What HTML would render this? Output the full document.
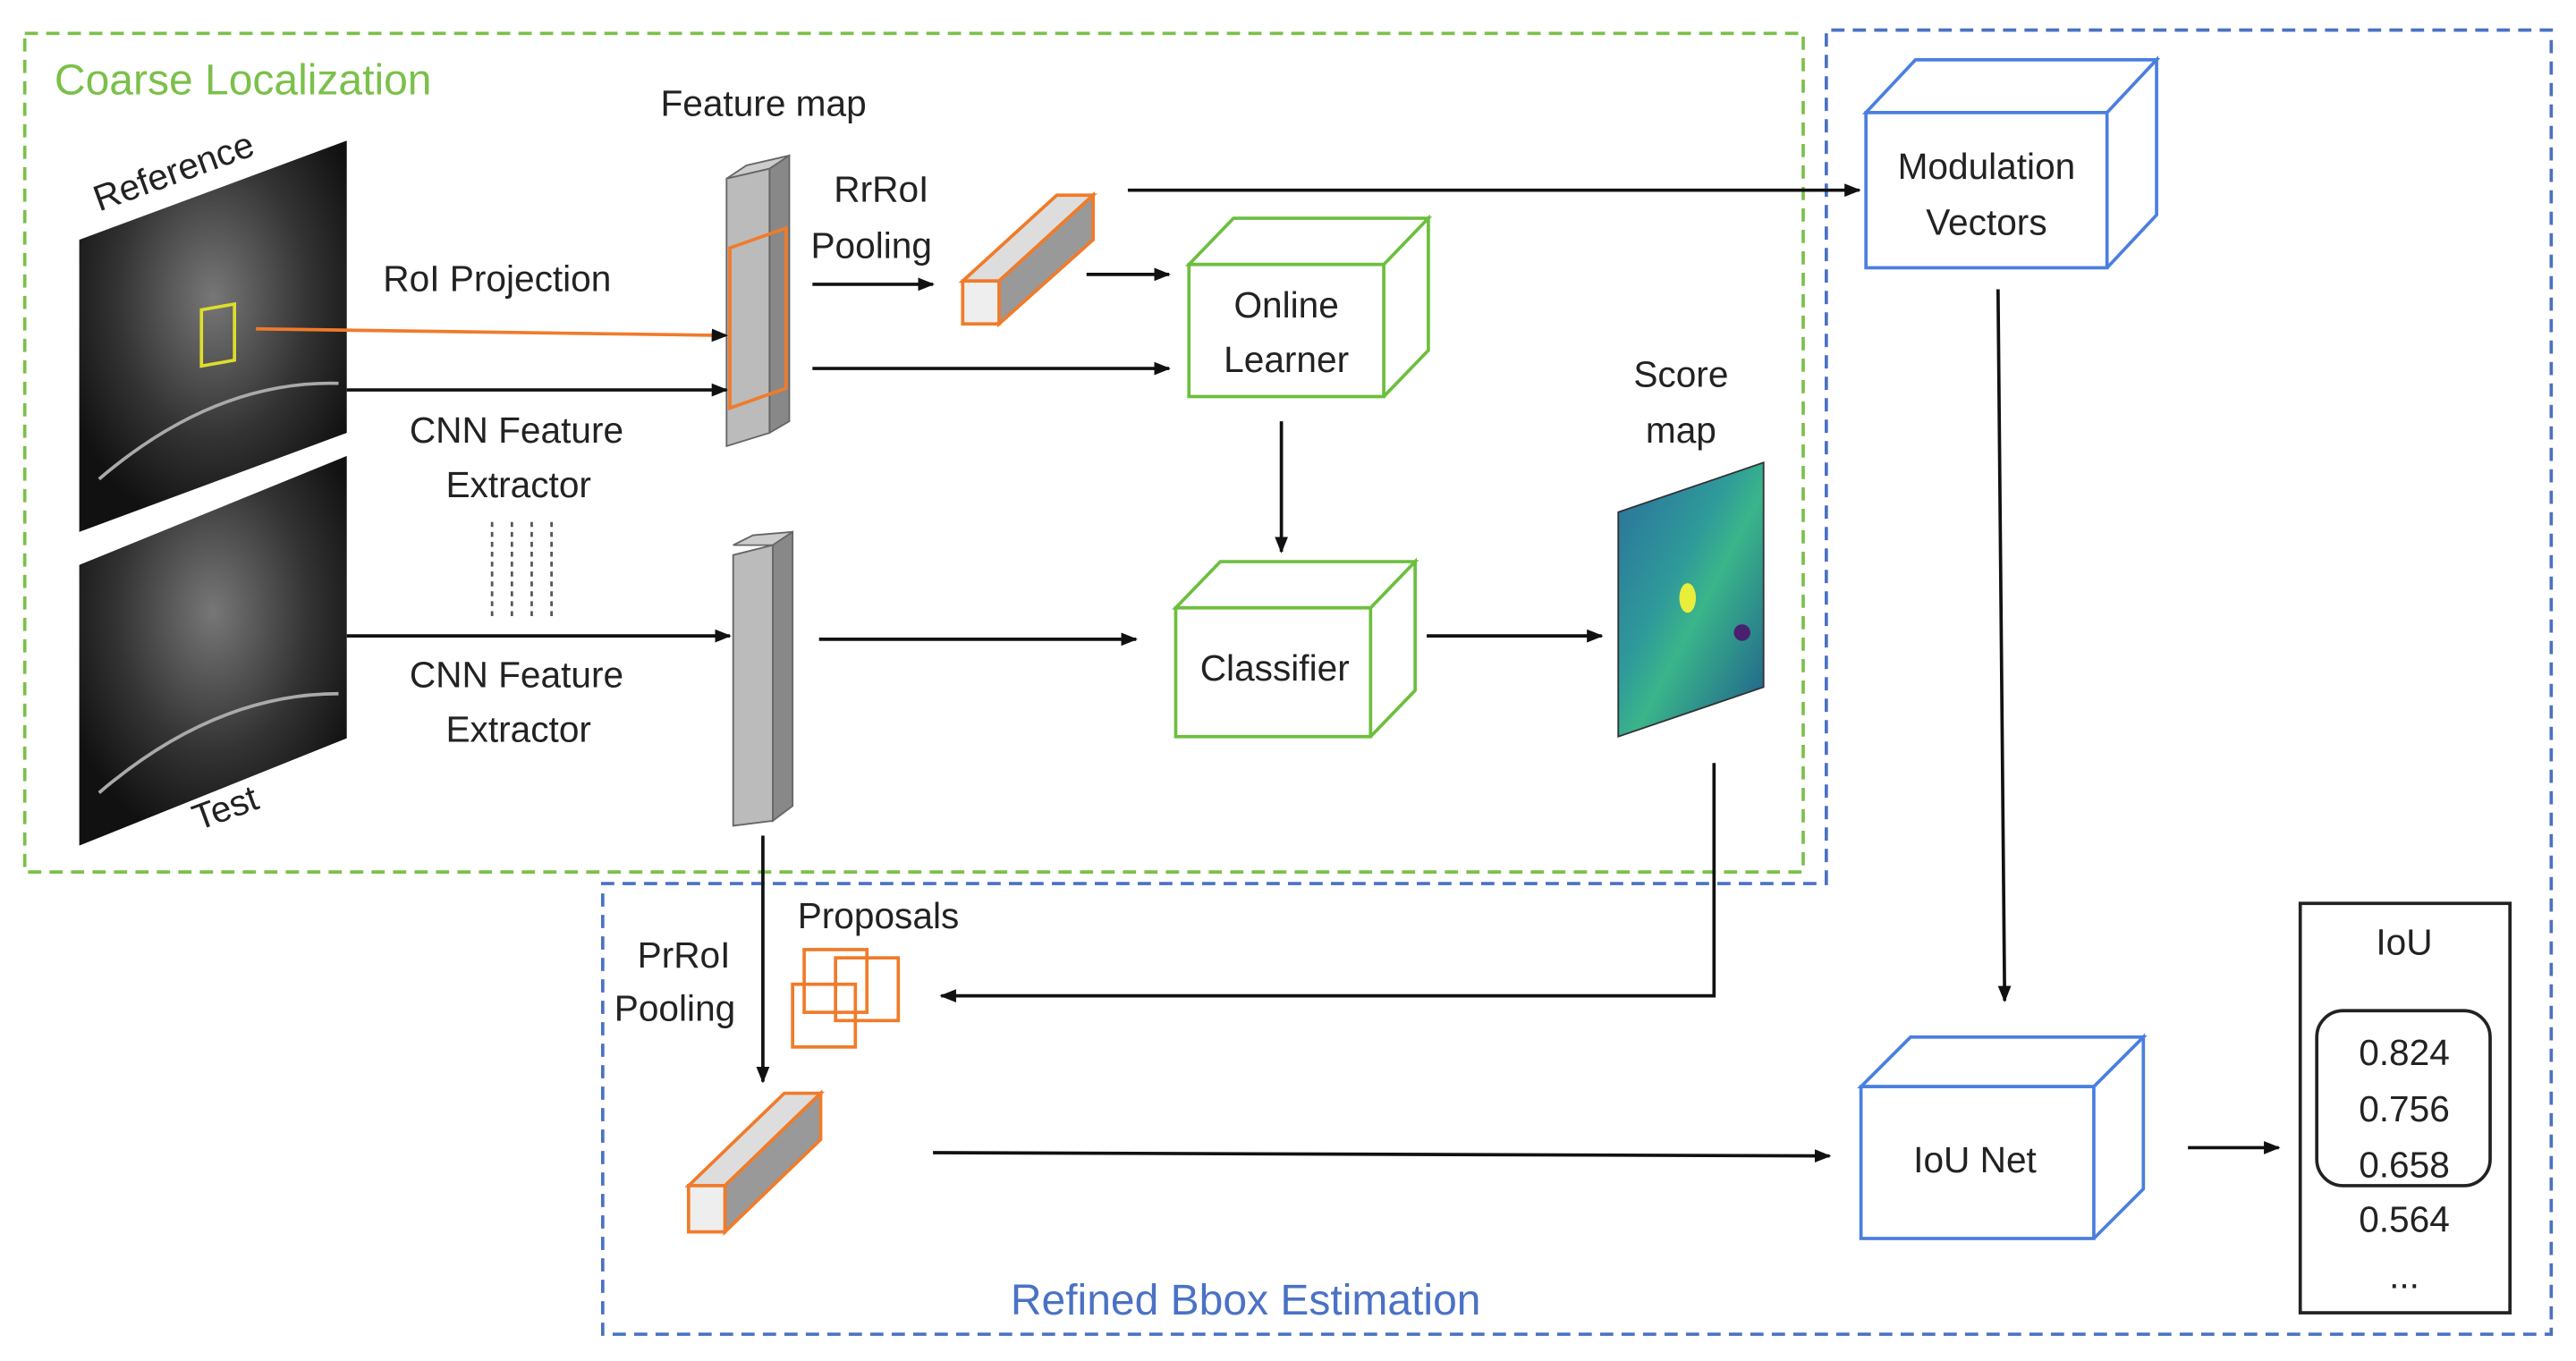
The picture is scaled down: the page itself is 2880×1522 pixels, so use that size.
<!DOCTYPE html>
<html><head><meta charset="utf-8"><style>
html,body{margin:0;padding:0;background:#fff;}
svg{display:block}
text{font-family:"Liberation Sans",sans-serif;fill:#222;}
</style></head><body>
<svg width="2880" height="1522" viewBox="0 0 1560 824" xmlns="http://www.w3.org/2000/svg">
<defs>
<marker id="a" markerWidth="10" markerHeight="8" refX="9" refY="4" orient="auto" markerUnits="userSpaceOnUse"><path d="M0,0 L10,4 L0,8z" fill="#111"/></marker>
<linearGradient id="sm" x1="0" y1="0" x2="1" y2="1"><stop offset="0" stop-color="#2a6e9a"/><stop offset="0.4" stop-color="#2f9a9a"/><stop offset="0.55" stop-color="#3ab58a"/><stop offset="1" stop-color="#1e5a8c"/></linearGradient>
<radialGradient id="im" cx="0.5" cy="0.4" r="0.6"><stop offset="0" stop-color="#777"/><stop offset="0.6" stop-color="#333"/><stop offset="1" stop-color="#111"/></radialGradient>
</defs>
<!-- dashed regions -->
<rect x="15" y="20" width="1077" height="508" fill="none" stroke="#7bc04a" stroke-width="2" stroke-dasharray="8,5"/>
<path d="M1106,535 L1106,18 L1545,18 L1545,808 L365,808 L365,535 Z" fill="none" stroke="#4a72c4" stroke-width="2" stroke-dasharray="8,5"/>
<text x="33" y="57" font-size="26" style="fill:#7bc04a">Coarse Localization</text>
<text x="612" y="796" font-size="26" style="fill:#4a72c4">Refined Bbox Estimation</text>
<!-- images -->
<polygon points="48,145 210,85 210,262 48,322" fill="url(#im)"/>
<polygon points="48,342 210,276 210,447 48,512" fill="url(#im)"/>
<path d="M60,290 Q130,230 205,232" stroke="#aaa" fill="none" stroke-width="2"/>
<path d="M60,480 Q130,420 205,420" stroke="#aaa" fill="none" stroke-width="2"/>
<rect x="122" y="186" width="20" height="34" fill="none" stroke="#dede2a" stroke-width="2" transform="skewY(-10) translate(0,23)"/>
<text x="60" y="128" font-size="22" transform="rotate(-20 60 128)">Reference</text>
<text x="120" y="503" font-size="22" transform="rotate(-20 120 503)">Test</text>
<!-- feature maps -->
<text x="400" y="70" font-size="22">Feature map</text>
<polygon points="440,108 452,100 478,94 466,102" fill="#ccc" stroke="#666"/>
<polygon points="466,102 478,94 478,255 466,262" fill="#888" stroke="#666"/>
<polygon points="440,108 466,102 466,262 440,270" fill="#bbb" stroke="#666"/>
<polygon points="442,150 476,138 476,235 442,247" fill="none" stroke="#f07b2a" stroke-width="2"/>
<polygon points="444,330 456,324 480,322 468,330" fill="#ccc" stroke="#666"/>
<polygon points="468,330 480,322 480,488 468,497" fill="#888" stroke="#666"/>
<polygon points="444,336 468,330 468,497 444,500" fill="#bbb" stroke="#666"/>
<!-- orange pooled -->
<polygon points="583,170 640,118 662,118 605,170" fill="#ddd" stroke="#f07b2a" stroke-width="2"/>
<polygon points="605,170 662,118 662,145 605,196" fill="#999" stroke="#f07b2a" stroke-width="2"/>
<rect x="583" y="170" width="22" height="26" fill="#eee" stroke="#f07b2a" stroke-width="2"/>
<polygon points="417,718 475,662 497,662 439,718" fill="#ddd" stroke="#f07b2a" stroke-width="2"/>
<polygon points="439,718 497,662 497,690 439,746" fill="#999" stroke="#f07b2a" stroke-width="2"/>
<rect x="417" y="718" width="22" height="28" fill="#eee" stroke="#f07b2a" stroke-width="2"/>
<!-- proposals -->
<rect x="487" y="575" width="38" height="38" fill="none" stroke="#f07b2a" stroke-width="2"/>
<rect x="506" y="580" width="38" height="38" fill="none" stroke="#f07b2a" stroke-width="2"/>
<rect x="480" y="596" width="38" height="38" fill="none" stroke="#f07b2a" stroke-width="2"/>
<text x="483" y="562" font-size="22">Proposals</text>
<text x="386" y="586" font-size="22">PrRoI</text>
<text x="372" y="618" font-size="22">Pooling</text>
<!-- text labels -->
<text x="505" y="122" font-size="22">RrRoI</text>
<text x="491" y="156" font-size="22">Pooling</text>
<text x="232" y="176" font-size="22">RoI Projection</text>
<text x="248" y="268" font-size="22">CNN Feature</text>
<text x="270" y="301" font-size="22">Extractor</text>
<text x="248" y="416" font-size="22">CNN Feature</text>
<text x="270" y="449" font-size="22">Extractor</text>
<g stroke="#555" stroke-width="1.5" stroke-dasharray="3,3"><line x1="298" y1="316" x2="298" y2="374"/><line x1="310" y1="316" x2="310" y2="374"/><line x1="322" y1="316" x2="322" y2="374"/><line x1="334" y1="316" x2="334" y2="374"/></g>
<!-- cubes -->
<g fill="#fff" stroke="#6cbf3e" stroke-width="2">
<path d="M720,160 L747,132 L865,132 L838,160 Z M838,160 L865,132 L865,212 L838,240"/>
<rect x="720" y="160" width="118" height="80"/>
<path d="M712,368 L739,340 L857,340 L830,368 Z M830,368 L857,340 L857,418 L830,446"/>
<rect x="712" y="368" width="118" height="78"/>
</g>
<g fill="#fff" stroke="#4a7fe0" stroke-width="2">
<path d="M1130,68 L1160,36 L1306,36 L1276,68 Z M1276,68 L1306,36 L1306,130 L1276,162"/>
<rect x="1130" y="68" width="146" height="94"/>
<path d="M1127,658 L1157,628 L1298,628 L1268,658 Z M1268,658 L1298,628 L1298,720 L1268,750"/>
<rect x="1127" y="658" width="141" height="92"/>
</g>
<text x="779" y="192" font-size="22" text-anchor="middle">Online</text>
<text x="779" y="225" font-size="22" text-anchor="middle">Learner</text>
<text x="772" y="412" font-size="22" text-anchor="middle">Classifier</text>
<text x="1203" y="108" font-size="22" text-anchor="middle">Modulation</text>
<text x="1203" y="142" font-size="22" text-anchor="middle">Vectors</text>
<text x="1196" y="710" font-size="22" text-anchor="middle">IoU Net</text>
<!-- score map -->
<text x="1018" y="234" font-size="22" text-anchor="middle">Score</text>
<text x="1018" y="268" font-size="22" text-anchor="middle">map</text>
<polygon points="980,310 1068,280 1068,416 980,446" fill="url(#sm)" stroke="#333"/>
<ellipse cx="1022" cy="362" rx="5" ry="9" fill="#e8ee3a"/>
<circle cx="1055" cy="383" r="5" fill="#4a2070"/>
<!-- IoU box -->
<rect x="1393" y="547" width="127" height="248" fill="#fff" stroke="#222" stroke-width="2"/>
<text x="1456" y="578" font-size="22" text-anchor="middle">IoU</text>
<rect x="1403" y="612" width="105" height="106" rx="16" fill="none" stroke="#222" stroke-width="2"/>
<text x="1456" y="645" font-size="22" text-anchor="middle">0.824</text>
<text x="1456" y="679" font-size="22" text-anchor="middle">0.756</text>
<text x="1456" y="713" font-size="22" text-anchor="middle">0.658</text>
<text x="1456" y="746" font-size="22" text-anchor="middle">0.564</text>
<text x="1456" y="780" font-size="22" text-anchor="middle">...</text>
<!-- arrows -->
<g stroke="#111" stroke-width="2" fill="none" marker-end="url(#a)">
<line x1="210" y1="236" x2="440" y2="236"/>
<line x1="210" y1="385" x2="442" y2="385"/>
<line x1="492" y1="172" x2="565" y2="172"/>
<line x1="492" y1="223" x2="708" y2="223"/>
<line x1="658" y1="166" x2="708" y2="166"/>
<line x1="683" y1="115" x2="1126" y2="115"/>
<line x1="776" y1="255" x2="776" y2="334"/>
<line x1="496" y1="387" x2="688" y2="387"/>
<line x1="864" y1="385" x2="970" y2="385"/>
<line x1="1210" y1="175" x2="1214" y2="606"/>
<polyline points="1038,462 1038,603 570,603"/>
<line x1="462" y1="506" x2="462" y2="655"/>
<line x1="565" y1="698" x2="1108" y2="700"/>
<line x1="1325" y1="695" x2="1380" y2="695"/>
</g>
<line x1="155" y1="199" x2="440" y2="203" stroke="#f07b2a" stroke-width="2" marker-end="url(#a)"/>
</svg>
</body></html>
